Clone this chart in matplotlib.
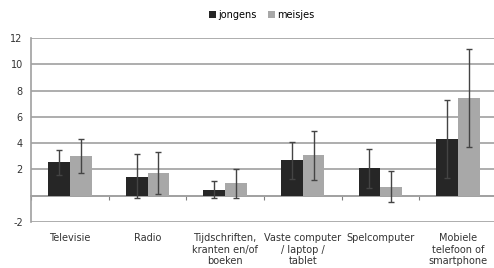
import matplotlib.pyplot as plt
import numpy as np

# media categories and mean values
categories = ["Televisie", "Radio", "Tijdschriften,\nkranten en/of\nboeken",
              "Vaste computer\n/ laptop /\ntablet", "Spelcomputer",
              "Mobiele\ntelefoon of\nsmartphone"]
jongens = [2.55, 1.45, 0.45, 2.7, 2.1, 4.3]
meisjes = [3.0, 1.75, 0.95, 3.1, 0.65, 7.45]
# error bar ends (low, high)
jongens_lo = [1.6, -0.15, -0.15, 1.3, 0.6, 1.35]
jongens_hi = [3.5, 3.2, 1.1, 4.1, 3.55, 7.3]
meisjes_lo = [1.7, 0.1, -0.15, 1.2, -0.5, 3.7]
meisjes_hi = [4.3, 3.35, 2.05, 4.95, 1.85, 11.2]
yticks = [-2, 0, 2, 4, 6, 8, 10, 12]
ylabels = ["-2", "", "2", "4", "6", "8", "10", "12"]

fig = plt.figure(figsize=(4.94, 2.68), dpi=100)
ax = fig.add_axes([0.063, 0.172, 0.9425, 0.686])

x = np.arange(len(categories))
w = 0.28
j = np.array(jongens)
m = np.array(meisjes)
j_err = [j - np.array(jongens_lo), np.array(jongens_hi) - j]
m_err = [m - np.array(meisjes_lo), np.array(meisjes_hi) - m]

ekw = dict(ecolor="#444444", elinewidth=1, capsize=2.5, capthick=1)
ax.bar(x - w / 2, j, w, color="#262626", yerr=j_err, error_kw=ekw, label="jongens", zorder=3)
ax.bar(x + w / 2, m, w, color="#a8a8a8", yerr=m_err, error_kw=ekw, label="meisjes", zorder=3)

ax.set_xlim(-0.5, len(categories) - 0.5)
ax.set_ylim(-2, 12)
ax.set_yticks(yticks)
ax.set_yticklabels(ylabels)
ax.grid(axis="y", color="#a0a0a0", linewidth=1.2, zorder=0)
ax.set_xticks(x)
ax.set_xticklabels(categories, fontsize=7, color="#333333")
ax.tick_params(axis="x", length=0, pad=8)
ax.tick_params(axis="y", length=0, labelsize=7, labelcolor="#333333", pad=6)
for s in ["top", "right", "bottom"]:
    ax.spines[s].set_visible(False)
ax.spines["left"].set_color("#a0a0a0")
ax.spines["left"].set_linewidth(1.2)

# category axis sits at zero with ticks between the groups
sec = ax.secondary_xaxis(2 / 14)
sec.set_xticks(np.arange(len(categories) + 1) - 0.5)
sec.set_xticklabels([])
sec.tick_params(axis="x", direction="out", length=3, color="#808080")
sec.spines["bottom"].set_color("#a0a0a0")
sec.spines["bottom"].set_linewidth(1.2)

fig.legend(loc="center", bbox_to_anchor=(0.53, 0.945), ncol=2, frameon=False,
           fontsize=7, handlelength=0.7, handleheight=0.7, handletextpad=0.2,
           columnspacing=1.2)

fig.savefig("out.png", dpi=100)
